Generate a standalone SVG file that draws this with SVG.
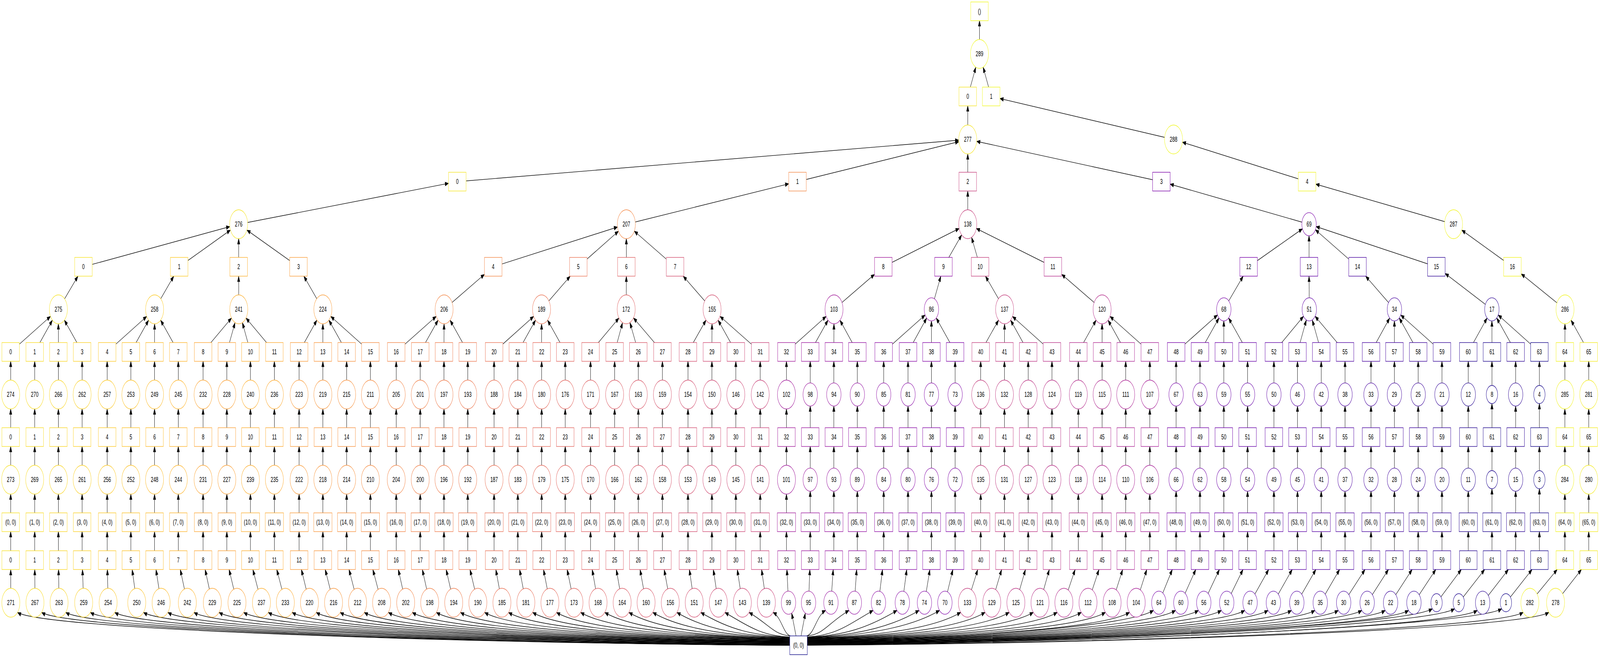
<svg xmlns="http://www.w3.org/2000/svg" width="6566" height="1682" viewBox="0 0 6566 1682" preserveAspectRatio="none">
<defs>
<style>
svg{width:100vw;height:100vh}
text{font-family:"Liberation Sans",Arial,sans-serif;font-size:18.67px;text-anchor:middle;fill:#000;stroke:none}
.nd circle,.nd rect{fill:#fff;stroke-width:1.4}
#edges path{fill:none;stroke:#000;stroke-width:1.4;marker-end:url(#m0)}
#edges path.e37{marker-end:url(#m37)}
#edges path.e30{marker-end:url(#m30)}
</style>
<marker id="m0" markerUnits="userSpaceOnUse" markerWidth="14" markerHeight="10" viewBox="-14 -5 14 10" refX="0" refY="0" orient="auto" overflow="visible"><path d="M-14,-5L0,0L-14,5z" fill="#000" stroke="#000" stroke-width="1"/></marker>
<marker id="m37" markerUnits="userSpaceOnUse" markerWidth="14" markerHeight="10" viewBox="-14 -5 14 10" refX="37" refY="0" orient="auto" overflow="visible"><path d="M-14,-5L0,0L-14,5z" fill="#000" stroke="#000" stroke-width="1"/></marker>
<marker id="m30" markerUnits="userSpaceOnUse" markerWidth="14" markerHeight="10" viewBox="-14 -5 14 10" refX="29.6" refY="0" orient="auto" overflow="visible"><path d="M-14,-5L0,0L-14,5z" fill="#000" stroke="#000" stroke-width="1"/></marker>
</defs>
<rect width="6566" height="1682" fill="#fff"/>
<g id="edges">
<path d="M4019.6,138V53"/>
<path class="e37" d="M3971.4,247L4019.6,138"/>
<path class="e37" d="M4067.6,247L4019.6,138"/>
<path d="M3971.4,357V271"/>
<path d="M4816,357L4103.6,252.3"/>
<path class="e37" d="M1876.6,465L3971.4,357"/>
<path class="e37" d="M3272.7,465L3971.4,357"/>
<path class="e37" d="M3971.4,465L3971.4,357"/>
<path class="e37" d="M4766,465L3971.4,357"/>
<path class="e37" d="M5364,465L4816,357"/>
<path d="M979.4,574L1840.6,469.4"/>
<path d="M2570.4,574L3236.7,470.6"/>
<path d="M3971.4,574V489"/>
<path d="M5372,574L4802,471.5"/>
<path d="M5965,574L5400,471.5"/>
<path class="e37" d="M342.4,683L979.4,574"/>
<path class="e37" d="M735.2,683L979.4,574"/>
<path class="e37" d="M979.4,683L979.4,574"/>
<path class="e37" d="M1224.9,683L979.4,574"/>
<path class="e37" d="M2024,683L2570.4,574"/>
<path class="e37" d="M2373.3,683L2570.4,574"/>
<path class="e37" d="M2570.4,683L2570.4,574"/>
<path class="e37" d="M2770.4,683L2570.4,574"/>
<path class="e37" d="M3624.9,683L3971.4,574"/>
<path class="e37" d="M3871.8,683L3971.4,574"/>
<path class="e37" d="M4022,683L3971.4,574"/>
<path class="e37" d="M4320.8,683L3971.4,574"/>
<path class="e30" d="M5124,683L5372,574"/>
<path class="e30" d="M5372,683L5372,574"/>
<path class="e30" d="M5571,683L5372,574"/>
<path class="e30" d="M5894.5,683L5372,574"/>
<path class="e37" d="M6206.6,683L5965,574"/>
<path d="M239.6,792L319.8,707"/>
<path d="M634.5,792L713,707"/>
<path d="M979.8,792L979.4,707"/>
<path d="M1325,792L1247,707"/>
<path d="M1822.5,792L1988,702.5"/>
<path d="M2222.4,792L2340,707"/>
<path d="M2569.7,792L2570.4,707"/>
<path d="M2922.2,792L2803.8,707"/>
<path d="M3422.6,792L3588.9,702.4"/>
<path d="M3822.4,792L3860.9,707"/>
<path d="M4122.7,792L4044.2,707"/>
<path d="M4522.7,792L4356.8,702.4"/>
<path d="M5022.2,792L5101.6,707"/>
<path d="M5373,792L5372,707"/>
<path d="M5722.4,792L5604.3,707"/>
<path d="M6122.3,792L5930.5,700.2"/>
<path d="M6422.5,792L6242.6,701.2"/>
<path class="e37" d="M43.8,901L239.6,792"/>
<path class="e37" d="M142.4,901L239.6,792"/>
<path class="e37" d="M239.6,901L239.6,792"/>
<path class="e37" d="M337,901L239.6,792"/>
<path class="e37" d="M439.8,901L634.5,792"/>
<path class="e37" d="M537,901L634.5,792"/>
<path class="e37" d="M634.2,901L634.5,792"/>
<path class="e37" d="M731.7,901L634.5,792"/>
<path class="e37" d="M833.4,901L979.8,792"/>
<path class="e37" d="M930.9,901L979.8,792"/>
<path class="e37" d="M1027.7,901L979.8,792"/>
<path class="e37" d="M1126,901L979.8,792"/>
<path class="e37" d="M1227.5,901L1325,792"/>
<path class="e37" d="M1325,901L1325,792"/>
<path class="e37" d="M1422.5,901L1325,792"/>
<path class="e37" d="M1520,901L1325,792"/>
<path class="e37" d="M1626,901L1822.5,792"/>
<path class="e37" d="M1724.5,901L1822.5,792"/>
<path class="e37" d="M1822,901L1822.5,792"/>
<path class="e37" d="M1919.5,901L1822.5,792"/>
<path class="e37" d="M2027.6,901L2222.4,792"/>
<path class="e37" d="M2125,901L2222.4,792"/>
<path class="e37" d="M2222.8,901L2222.4,792"/>
<path class="e37" d="M2319.6,901L2222.4,792"/>
<path class="e37" d="M2423.4,901L2569.7,792"/>
<path class="e37" d="M2522.3,901L2569.7,792"/>
<path class="e37" d="M2619.5,901L2569.7,792"/>
<path class="e37" d="M2718.4,901L2569.7,792"/>
<path class="e37" d="M2823.3,901L2922.2,792"/>
<path class="e37" d="M2921.5,901L2922.2,792"/>
<path class="e37" d="M3019.7,901L2922.2,792"/>
<path class="e37" d="M3119.7,901L2922.2,792"/>
<path class="e37" d="M3227.4,901L3422.6,792"/>
<path class="e37" d="M3325,901L3422.6,792"/>
<path class="e37" d="M3421.9,901L3422.6,792"/>
<path class="e37" d="M3518.3,901L3422.6,792"/>
<path class="e30" d="M3626.4,901L3822.4,792"/>
<path class="e30" d="M3726.3,901L3822.4,792"/>
<path class="e30" d="M3822.4,901L3822.4,792"/>
<path class="e30" d="M3919.6,901L3822.4,792"/>
<path class="e37" d="M4024.5,901L4122.7,792"/>
<path class="e37" d="M4122,901L4122.7,792"/>
<path class="e37" d="M4219.5,901L4122.7,792"/>
<path class="e37" d="M4317,901L4122.7,792"/>
<path class="e37" d="M4425.2,901L4522.7,792"/>
<path class="e37" d="M4522.7,901L4522.7,792"/>
<path class="e37" d="M4619.6,901L4522.7,792"/>
<path class="e37" d="M4718.5,901L4522.7,792"/>
<path class="e30" d="M4826.5,901L5022.2,792"/>
<path class="e30" d="M4924.4,901L5022.2,792"/>
<path class="e30" d="M5022.2,901L5022.2,792"/>
<path class="e30" d="M5119.7,901L5022.2,792"/>
<path class="e30" d="M5227.8,901L5373,792"/>
<path class="e30" d="M5324.6,901L5373,792"/>
<path class="e30" d="M5422,901L5373,792"/>
<path class="e30" d="M5519.7,901L5373,792"/>
<path class="e30" d="M5626.3,901L5722.4,792"/>
<path class="e30" d="M5722.4,901L5722.4,792"/>
<path class="e30" d="M5819.9,901L5722.4,792"/>
<path class="e30" d="M5917.4,901L5722.4,792"/>
<path class="e30" d="M6025.4,901L6122.3,792"/>
<path class="e30" d="M6122.6,901L6122.3,792"/>
<path class="e30" d="M6219.8,901L6122.3,792"/>
<path class="e30" d="M6317.3,901L6122.3,792"/>
<path class="e37" d="M6421.8,901L6422.5,792"/>
<path class="e37" d="M6519.7,901L6422.5,792"/>
<g transform="translate(43.8,0)"><path d="M0,1010V925"/><path d="M0,1119V1047"/><path d="M0,1228V1143"/><path d="M0,1337V1265"/><path d="M0,1434V1361"/><path d="M0.7,1543L0.15,1458"/></g>
<g transform="translate(142.4,0)"><path d="M0,1010V925"/><path d="M0,1119V1047"/><path d="M0,1228V1143"/><path d="M0,1337V1265"/><path d="M0,1434V1361"/><path d="M1.1,1543L0.24,1458"/></g>
<g transform="translate(239.6,0)"><path d="M0,1010V925"/><path d="M0,1119V1047"/><path d="M0,1228V1143"/><path d="M0,1337V1265"/><path d="M0,1434V1361"/><path d="M2.8,1543L0.62,1458"/></g>
<g transform="translate(337,0)"><path d="M0,1010V925"/><path d="M0,1119V1047"/><path d="M0,1228V1143"/><path d="M0,1337V1265"/><path d="M0,1434V1361"/><path d="M6.4,1543L1.41,1458"/></g>
<g transform="translate(439.8,0)"><path d="M0,1010V925"/><path d="M0,1119V1047"/><path d="M0,1228V1143"/><path d="M0,1337V1265"/><path d="M0,1434V1361"/><path d="M3.9,1543L0.86,1458"/></g>
<g transform="translate(537,0)"><path d="M0,1010V925"/><path d="M0,1119V1047"/><path d="M0,1228V1143"/><path d="M0,1337V1265"/><path d="M0,1434V1361"/><path d="M24.2,1543L5.33,1458"/></g>
<g transform="translate(634.2,0)"><path d="M0,1010V925"/><path d="M0,1119V1047"/><path d="M0,1228V1143"/><path d="M0,1337V1265"/><path d="M0,1434V1361"/><path d="M27,1543L5.95,1458"/></g>
<g transform="translate(731.7,0)"><path d="M0,1010V925"/><path d="M0,1119V1047"/><path d="M0,1228V1143"/><path d="M0,1337V1265"/><path d="M0,1434V1361"/><path d="M37.1,1543L8.17,1458"/></g>
<g transform="translate(833.4,0)"><path d="M0,1010V925"/><path d="M0,1119V1047"/><path d="M0,1228V1143"/><path d="M0,1337V1265"/><path d="M0,1434V1361"/><path d="M37.9,1543L8.35,1458"/></g>
<g transform="translate(930.9,0)"><path d="M0,1010V925"/><path d="M0,1119V1047"/><path d="M0,1228V1143"/><path d="M0,1337V1265"/><path d="M0,1434V1361"/><path d="M41.7,1543L9.18,1458"/></g>
<g transform="translate(1027.7,0)"><path d="M0,1010V925"/><path d="M0,1119V1047"/><path d="M0,1228V1143"/><path d="M0,1337V1265"/><path d="M0,1434V1361"/><path d="M45.3,1543L9.97,1458"/></g>
<g transform="translate(1126,0)"><path d="M0,1010V925"/><path d="M0,1119V1047"/><path d="M0,1228V1143"/><path d="M0,1337V1265"/><path d="M0,1434V1361"/><path d="M45,1543L9.91,1458"/></g>
<g transform="translate(1227.5,0)"><path d="M0,1010V925"/><path d="M0,1119V1047"/><path d="M0,1228V1143"/><path d="M0,1337V1265"/><path d="M0,1434V1361"/><path d="M42.5,1543L9.36,1458"/></g>
<g transform="translate(1325,0)"><path d="M0,1010V925"/><path d="M0,1119V1047"/><path d="M0,1228V1143"/><path d="M0,1337V1265"/><path d="M0,1434V1361"/><path d="M43.8,1543L9.64,1458"/></g>
<g transform="translate(1422.5,0)"><path d="M0,1010V925"/><path d="M0,1119V1047"/><path d="M0,1228V1143"/><path d="M0,1337V1265"/><path d="M0,1434V1361"/><path d="M44.9,1543L9.89,1458"/></g>
<g transform="translate(1520,0)"><path d="M0,1010V925"/><path d="M0,1119V1047"/><path d="M0,1228V1143"/><path d="M0,1337V1265"/><path d="M0,1434V1361"/><path d="M46,1543L10.13,1458"/></g>
<g transform="translate(1626,0)"><path d="M0,1010V925"/><path d="M0,1119V1047"/><path d="M0,1228V1143"/><path d="M0,1337V1265"/><path d="M0,1434V1361"/><path d="M38.9,1543L8.57,1458"/></g>
<g transform="translate(1724.5,0)"><path d="M0,1010V925"/><path d="M0,1119V1047"/><path d="M0,1228V1143"/><path d="M0,1337V1265"/><path d="M0,1434V1361"/><path d="M38.9,1543L8.57,1458"/></g>
<g transform="translate(1822,0)"><path d="M0,1010V925"/><path d="M0,1119V1047"/><path d="M0,1228V1143"/><path d="M0,1337V1265"/><path d="M0,1434V1361"/><path d="M40,1543L8.81,1458"/></g>
<g transform="translate(1919.5,0)"><path d="M0,1010V925"/><path d="M0,1119V1047"/><path d="M0,1228V1143"/><path d="M0,1337V1265"/><path d="M0,1434V1361"/><path d="M41.5,1543L9.14,1458"/></g>
<g transform="translate(2027.6,0)"><path d="M0,1010V925"/><path d="M0,1119V1047"/><path d="M0,1228V1143"/><path d="M0,1337V1265"/><path d="M0,1434V1361"/><path d="M32.2,1543L7.09,1458"/></g>
<g transform="translate(2125,0)"><path d="M0,1010V925"/><path d="M0,1119V1047"/><path d="M0,1228V1143"/><path d="M0,1337V1265"/><path d="M0,1434V1361"/><path d="M33,1543L7.27,1458"/></g>
<g transform="translate(2222.8,0)"><path d="M0,1010V925"/><path d="M0,1119V1047"/><path d="M0,1228V1143"/><path d="M0,1337V1265"/><path d="M0,1434V1361"/><path d="M34,1543L7.49,1458"/></g>
<g transform="translate(2319.6,0)"><path d="M0,1010V925"/><path d="M0,1119V1047"/><path d="M0,1228V1143"/><path d="M0,1337V1265"/><path d="M0,1434V1361"/><path d="M35.8,1543L7.88,1458"/></g>
<g transform="translate(2423.4,0)"><path d="M0,1010V925"/><path d="M0,1119V1047"/><path d="M0,1228V1143"/><path d="M0,1337V1265"/><path d="M0,1434V1361"/><path d="M30.9,1543L6.8,1458"/></g>
<g transform="translate(2522.3,0)"><path d="M0,1010V925"/><path d="M0,1119V1047"/><path d="M0,1228V1143"/><path d="M0,1337V1265"/><path d="M0,1434V1361"/><path d="M30.9,1543L6.8,1458"/></g>
<g transform="translate(2619.5,0)"><path d="M0,1010V925"/><path d="M0,1119V1047"/><path d="M0,1228V1143"/><path d="M0,1337V1265"/><path d="M0,1434V1361"/><path d="M31.9,1543L7.02,1458"/></g>
<g transform="translate(2718.4,0)"><path d="M0,1010V925"/><path d="M0,1119V1047"/><path d="M0,1228V1143"/><path d="M0,1337V1265"/><path d="M0,1434V1361"/><path d="M32.3,1543L7.11,1458"/></g>
<g transform="translate(2823.3,0)"><path d="M0,1010V925"/><path d="M0,1119V1047"/><path d="M0,1228V1143"/><path d="M0,1337V1265"/><path d="M0,1434V1361"/><path d="M25.6,1543L5.64,1458"/></g>
<g transform="translate(2921.5,0)"><path d="M0,1010V925"/><path d="M0,1119V1047"/><path d="M0,1228V1143"/><path d="M0,1337V1265"/><path d="M0,1434V1361"/><path d="M26.3,1543L5.79,1458"/></g>
<g transform="translate(3019.7,0)"><path d="M0,1010V925"/><path d="M0,1119V1047"/><path d="M0,1228V1143"/><path d="M0,1337V1265"/><path d="M0,1434V1361"/><path d="M26.7,1543L5.88,1458"/></g>
<g transform="translate(3119.7,0)"><path d="M0,1010V925"/><path d="M0,1119V1047"/><path d="M0,1228V1143"/><path d="M0,1337V1265"/><path d="M0,1434V1361"/><path d="M25.3,1543L5.57,1458"/></g>
<g transform="translate(3227.4,0)"><path d="M0,1010V925"/><path d="M0,1119V1047"/><path d="M0,1228V1143"/><path d="M0,1337V1265"/><path d="M0,1434V1361"/><path d="M8.4,1543L1.85,1458"/></g>
<g transform="translate(3325,0)"><path d="M0,1010V925"/><path d="M0,1119V1039.6"/><path d="M0,1228V1143"/><path d="M0,1337V1257.6"/><path d="M0,1434V1361"/><path d="M-7,1543L-1.54,1458"/></g>
<g transform="translate(3421.9,0)"><path d="M0,1010V925"/><path d="M0,1119V1039.6"/><path d="M0,1228V1143"/><path d="M0,1337V1257.6"/><path d="M0,1434V1361"/><path d="M-11.9,1543L-2.62,1458"/></g>
<g transform="translate(3518.3,0)"><path d="M0,1010V925"/><path d="M0,1119V1039.6"/><path d="M0,1228V1143"/><path d="M0,1337V1257.6"/><path d="M0,1434V1361"/><path d="M-12.3,1543L-2.71,1458"/></g>
<g transform="translate(3626.4,0)"><path d="M0,1010V925"/><path d="M0,1119V1039.6"/><path d="M0,1228V1143"/><path d="M0,1337V1257.6"/><path d="M0,1434V1361"/><path d="M-21.4,1543L-4.71,1458"/></g>
<g transform="translate(3726.3,0)"><path d="M0,1010V925"/><path d="M0,1119V1039.6"/><path d="M0,1228V1143"/><path d="M0,1337V1257.6"/><path d="M0,1434V1361"/><path d="M-23.3,1543L-5.13,1458"/></g>
<g transform="translate(3822.4,0)"><path d="M0,1010V925"/><path d="M0,1119V1039.6"/><path d="M0,1228V1143"/><path d="M0,1337V1257.6"/><path d="M0,1434V1361"/><path d="M-28.7,1543L-6.32,1458"/></g>
<g transform="translate(3919.6,0)"><path d="M0,1010V925"/><path d="M0,1119V1039.6"/><path d="M0,1228V1143"/><path d="M0,1337V1257.6"/><path d="M0,1434V1361"/><path d="M-42,1543L-9.25,1458"/></g>
<g transform="translate(4024.5,0)"><path d="M0,1010V925"/><path d="M0,1119V1047"/><path d="M0,1228V1143"/><path d="M0,1337V1265"/><path d="M0,1434V1361"/><path d="M-54.5,1543L-12,1458"/></g>
<g transform="translate(4122,0)"><path d="M0,1010V925"/><path d="M0,1119V1047"/><path d="M0,1228V1143"/><path d="M0,1337V1265"/><path d="M0,1434V1361"/><path d="M-52,1543L-11.45,1458"/></g>
<g transform="translate(4219.5,0)"><path d="M0,1010V925"/><path d="M0,1119V1047"/><path d="M0,1228V1143"/><path d="M0,1337V1265"/><path d="M0,1434V1361"/><path d="M-50.5,1543L-11.12,1458"/></g>
<g transform="translate(4317,0)"><path d="M0,1010V925"/><path d="M0,1119V1047"/><path d="M0,1228V1143"/><path d="M0,1337V1265"/><path d="M0,1434V1361"/><path d="M-49.1,1543L-10.81,1458"/></g>
<g transform="translate(4425.2,0)"><path d="M0,1010V925"/><path d="M0,1119V1047"/><path d="M0,1228V1143"/><path d="M0,1337V1265"/><path d="M0,1434V1361"/><path d="M-59.2,1543L-13.04,1458"/></g>
<g transform="translate(4522.7,0)"><path d="M0,1010V925"/><path d="M0,1119V1047"/><path d="M0,1228V1143"/><path d="M0,1337V1265"/><path d="M0,1434V1361"/><path d="M-57.8,1543L-12.73,1458"/></g>
<g transform="translate(4619.6,0)"><path d="M0,1010V925"/><path d="M0,1119V1047"/><path d="M0,1228V1143"/><path d="M0,1337V1265"/><path d="M0,1434V1361"/><path d="M-55.8,1543L-12.29,1458"/></g>
<g transform="translate(4718.5,0)"><path d="M0,1010V925"/><path d="M0,1119V1047"/><path d="M0,1228V1143"/><path d="M0,1337V1265"/><path d="M0,1434V1361"/><path d="M-55.8,1543L-12.29,1458"/></g>
<g transform="translate(4826.5,0)"><path d="M0,1010V925"/><path d="M0,1119V1039.6"/><path d="M0,1228V1143"/><path d="M0,1337V1257.6"/><path d="M0,1434V1361"/><path d="M-70.9,1543L-15.61,1458"/></g>
<g transform="translate(4924.4,0)"><path d="M0,1010V925"/><path d="M0,1119V1039.6"/><path d="M0,1228V1143"/><path d="M0,1337V1257.6"/><path d="M0,1434V1361"/><path d="M-78.4,1543L-17.26,1458"/></g>
<g transform="translate(5022.2,0)"><path d="M0,1010V925"/><path d="M0,1119V1039.6"/><path d="M0,1228V1143"/><path d="M0,1337V1257.6"/><path d="M0,1434V1361"/><path d="M-82.2,1543L-18.1,1458"/></g>
<g transform="translate(5119.7,0)"><path d="M0,1010V925"/><path d="M0,1119V1039.6"/><path d="M0,1228V1143"/><path d="M0,1337V1257.6"/><path d="M0,1434V1361"/><path d="M-85.5,1543L-18.83,1458"/></g>
<g transform="translate(5227.8,0)"><path d="M0,1010V925"/><path d="M0,1119V1039.6"/><path d="M0,1228V1143"/><path d="M0,1337V1257.6"/><path d="M0,1434V1361"/><path d="M-97.8,1543L-21.54,1458"/></g>
<g transform="translate(5324.6,0)"><path d="M0,1010V925"/><path d="M0,1119V1039.6"/><path d="M0,1228V1143"/><path d="M0,1337V1257.6"/><path d="M0,1434V1361"/><path d="M-98.9,1543L-21.78,1458"/></g>
<g transform="translate(5422,0)"><path d="M0,1010V925"/><path d="M0,1119V1039.6"/><path d="M0,1228V1143"/><path d="M0,1337V1257.6"/><path d="M0,1434V1361"/><path d="M-100.2,1543L-22.06,1458"/></g>
<g transform="translate(5519.7,0)"><path d="M0,1010V925"/><path d="M0,1119V1039.6"/><path d="M0,1228V1143"/><path d="M0,1337V1257.6"/><path d="M0,1434V1361"/><path d="M-101.7,1543L-22.39,1458"/></g>
<g transform="translate(5626.3,0)"><path d="M0,1010V925"/><path d="M0,1119V1039.6"/><path d="M0,1228V1143"/><path d="M0,1337V1257.6"/><path d="M0,1434V1361"/><path d="M-112.3,1543L-24.73,1458"/></g>
<g transform="translate(5722.4,0)"><path d="M0,1010V925"/><path d="M0,1119V1039.6"/><path d="M0,1228V1143"/><path d="M0,1337V1257.6"/><path d="M0,1434V1361"/><path d="M-111.9,1543L-24.64,1458"/></g>
<g transform="translate(5819.9,0)"><path d="M0,1010V925"/><path d="M0,1119V1039.6"/><path d="M0,1228V1143"/><path d="M0,1337V1257.6"/><path d="M0,1434V1361"/><path d="M-113.3,1543L-24.95,1458"/></g>
<g transform="translate(5917.4,0)"><path d="M0,1010V925"/><path d="M0,1119V1039.6"/><path d="M0,1228V1143"/><path d="M0,1337V1257.6"/><path d="M0,1434V1361"/><path d="M-115,1543L-25.32,1458"/></g>
<g transform="translate(6025.4,0)"><path d="M0,1010V925"/><path d="M0,1119V1039.6"/><path d="M0,1228V1143"/><path d="M0,1337V1257.6"/><path d="M0,1434V1361"/><path d="M-130.1,1543L-28.65,1458"/></g>
<g transform="translate(6122.6,0)"><path d="M0,1010V925"/><path d="M0,1119V1033.3"/><path d="M0,1228V1143"/><path d="M0,1337V1251.3"/><path d="M0,1434V1361"/><path d="M-136.1,1543L-29.97,1458"/></g>
<g transform="translate(6219.8,0)"><path d="M0,1010V925"/><path d="M0,1119V1039.6"/><path d="M0,1228V1143"/><path d="M0,1337V1257.6"/><path d="M0,1434V1361"/><path d="M-135.4,1543L-29.81,1458"/></g>
<g transform="translate(6317.3,0)"><path d="M0,1010V925"/><path d="M0,1119V1033.3"/><path d="M0,1228V1143"/><path d="M0,1337V1251.3"/><path d="M0,1434V1361"/><path d="M-137.3,1543L-30.23,1458"/></g>
<g transform="translate(6421.8,0)"><path d="M0,1010V925"/><path d="M0,1119V1047"/><path d="M0,1228V1143"/><path d="M0,1337V1265"/><path d="M0,1434V1361"/><path d="M-143.5,1543L-31.6,1458"/></g>
<g transform="translate(6519.7,0)"><path d="M0,1010V925"/><path d="M0,1119V1047"/><path d="M0,1228V1143"/><path d="M0,1337V1265"/><path d="M0,1434V1361"/><path d="M-136.1,1543L-29.97,1458"/></g>
<path d="M3241,1652C1973,1648 192,1613 72,1568"/>
<path d="M3241,1652C2013,1648 291,1613 171,1568"/>
<path d="M3241,1652C2053,1648 390,1613 270,1568"/>
<path d="M3241,1651C2093,1647 491,1613 371,1568"/>
<path d="M3241,1650C2133,1646 591,1613 471,1568"/>
<path d="M3241,1649C2180,1645 709,1613 589,1568"/>
<path d="M3241,1649C2220,1645 809,1613 689,1568"/>
<path d="M3241,1648C2263,1644 916,1613 796,1568"/>
<path d="M3241,1647C2304,1643 1019,1613 899,1568"/>
<path d="M3241,1646C2345,1642 1120,1613 1000,1568"/>
<path d="M3241,1645C2385,1641 1221,1613 1101,1568"/>
<path d="M3241,1645C2424,1641 1319,1613 1199,1568"/>
<path d="M3241,1644C2464,1640 1418,1613 1298,1568"/>
<path d="M3241,1643C2503,1639 1516,1613 1396,1568"/>
<path d="M3241,1642C2543,1638 1615,1613 1495,1568"/>
<path d="M3241,1642C2582,1638 1714,1613 1594,1568"/>
<path d="M3241,1641C2622,1637 1812,1613 1692,1568"/>
<path d="M3241,1640C2661,1636 1911,1613 1791,1568"/>
<path d="M3241,1639C2700,1635 2010,1613 1890,1568"/>
<path d="M3241,1638C2740,1634 2109,1613 1989,1568"/>
<path d="M3241,1638C2779,1634 2207,1613 2087,1568"/>
<path d="M3241,1637C2819,1633 2306,1613 2186,1568"/>
<path d="M3241,1636C2858,1632 2404,1613 2284,1568"/>
<path d="M3241,1635C2898,1631 2503,1613 2383,1568"/>
<path d="M3241,1635C2937,1631 2602,1613 2482,1568"/>
<path d="M3241,1634C2977,1630 2701,1613 2581,1568"/>
<path d="M3241,1633C3016,1629 2799,1613 2679,1568"/>
<path d="M3241,1632C3056,1628 2898,1613 2778,1568"/>
<path d="M3241,1631C3095,1627 2996,1613 2876,1568"/>
<path d="M3241,1631C3135,1627 3095,1613 2975,1568"/>
<path d="M3241,1628C3174,1624 3157,1599 3074,1568"/>
<path d="M3244,1628C3215,1624 3208,1581 3172.5,1568"/>
<path d="M3266.7,1628L3248.8,1569.6"/>
<path d="M3287.3,1628L3305,1569.6"/>
<path d="M3310.3,1628C3341.4,1624 3349.1,1577.4 3388,1562.8"/>
<path d="M3313,1628C3381.4,1624 3398.5,1594.9 3484,1562.8"/>
<path d="M3313,1630.6C3421,1626.6 3463,1607.8 3583,1562.8"/>
<path d="M3313,1631.4C3460,1627.4 3561,1607.8 3681,1562.8"/>
<path d="M3313,1632.1C3496.5,1628.1 3651.7,1607.8 3771.7,1562.8"/>
<path d="M3313,1632.8C3530,1628.8 3735.6,1607.8 3855.6,1562.8"/>
<path d="M3313,1633.5C3564.8,1629.5 3822.5,1612.8 3942.5,1567.8"/>
<path d="M3313,1634.3C3604.8,1630.3 3922.5,1612.8 4042.5,1567.8"/>
<path d="M3313,1635C3644.4,1631 4021.5,1612.8 4141.5,1567.8"/>
<path d="M3313,1635.8C3684,1631.8 4120.4,1612.8 4240.4,1567.8"/>
<path d="M3313,1636.6C3723.2,1632.6 4218.5,1612.8 4338.5,1567.8"/>
<path d="M3313,1637.4C3762.8,1633.4 4317.4,1612.8 4437.4,1567.8"/>
<path d="M3313,1638.1C3802.3,1634.1 4416.3,1612.8 4536.3,1567.8"/>
<path d="M3313,1638.9C3841.9,1634.9 4515.2,1612.8 4635.2,1567.8"/>
<path d="M3313,1639.7C3881.2,1635.7 4613.6,1607.8 4733.6,1562.8"/>
<path d="M3313,1640.4C3917.4,1636.4 4704,1607.8 4824,1562.8"/>
<path d="M3313,1641.1C3955,1637.1 4798,1607.8 4918,1562.8"/>
<path d="M3313,1641.8C3992.6,1637.8 4892.2,1607.8 5012.2,1562.8"/>
<path d="M3313,1642.6C4031,1638.6 4988,1607.8 5108,1562.8"/>
<path d="M3313,1643.3C4069.3,1639.3 5083.7,1607.8 5203.7,1562.8"/>
<path d="M3313,1644.1C4107.7,1640.1 5179.8,1607.8 5299.8,1562.8"/>
<path d="M3313,1644.9C4146.2,1640.9 5276,1607.8 5396,1562.8"/>
<path d="M3313,1645.6C4184.6,1641.6 5372,1607.8 5492,1562.8"/>
<path d="M3313,1646.4C4223.2,1642.4 5468.5,1607.8 5588.5,1562.8"/>
<path d="M3313,1647.1C4261.6,1643.1 5564.6,1607.8 5684.6,1562.8"/>
<path d="M3313,1647.9C4300,1643.9 5660.4,1607.8 5780.4,1562.8"/>
<path d="M3313,1648.6C4339,1644.6 5758,1603.6 5878,1558.6"/>
<path d="M3313,1649.3C4375.4,1645.3 5849.2,1603.6 5969.2,1558.6"/>
<path d="M3313,1650.1C4412.8,1646.1 5942.4,1607.8 6062.4,1562.8"/>
<path d="M3313,1650.8C4452.9,1646.8 6042.7,1603.6 6162.7,1558.6"/>
<path d="M3313,1651.6C4488,1647.6 6130.8,1612.8 6250.8,1567.8"/>
<path d="M3313,1652C4530,1648 6236.1,1612.8 6356.1,1567.8"/>
</g>
<g id="nodes" class="nd">
<g id="top" stroke="#f0f921"><rect x="3983.6" y="5" width="72" height="48"/><text x="4019.6" y="35.5">()</text></g>
<g id="n289" stroke="#f0f921"><circle cx="4019.6" cy="138" r="37"/><text x="4019.6" y="144.5">289</text></g>
<g id="t0" stroke="#f6e624"><rect x="3935.4" y="223" width="72" height="48"/><text x="3971.4" y="253.5">0</text></g>
<g id="t1" stroke="#f0f821"><rect x="4031.6" y="223" width="72" height="48"/><text x="4067.6" y="253.5">1</text></g>
<g id="n277" stroke="#f6e624"><circle cx="3971.4" cy="357" r="37"/><text x="3971.4" y="363.5">277</text></g>
<g id="n288" stroke="#f0f821"><circle cx="4816" cy="357" r="37"/><text x="4816" y="363.5">288</text></g>
<g id="u0" stroke="#f6e525"><rect x="1840.6" y="441" width="72" height="48"/><text x="1876.6" y="471.5">0</text></g>
<g id="u1" stroke="#f48947"><rect x="3236.7" y="441" width="72" height="48"/><text x="3272.7" y="471.5">1</text></g>
<g id="u2" stroke="#c6417d"><rect x="3935.4" y="441" width="72" height="48"/><text x="3971.4" y="471.5">2</text></g>
<g id="u3" stroke="#7a02a8"><rect x="4730" y="441" width="72" height="48"/><text x="4766" y="471.5">3</text></g>
<g id="u4" stroke="#f1f522"><rect x="5328" y="441" width="72" height="48"/><text x="5364" y="471.5">4</text></g>
<g id="n276" stroke="#f6e525"><circle cx="979.4" cy="574" r="37"/><text x="979.4" y="580.5">276</text></g>
<g id="n207" stroke="#f48947"><circle cx="2570.4" cy="574" r="37"/><text x="2570.4" y="580.5">207</text></g>
<g id="n138" stroke="#c6417d"><circle cx="3971.4" cy="574" r="37"/><text x="3971.4" y="580.5">138</text></g>
<g id="n69" stroke="#7a02a8"><circle cx="5372" cy="574" r="29.6"/><text x="5372" y="580.5">69</text></g>
<g id="n287" stroke="#f1f522"><circle cx="5965" cy="574" r="37"/><text x="5965" y="580.5">287</text></g>
<g id="v0" stroke="#f7e325"><rect x="306.4" y="659" width="72" height="48"/><text x="342.4" y="689.5">0</text></g>
<g id="v1" stroke="#fccb26"><rect x="699.2" y="659" width="72" height="48"/><text x="735.2" y="689.5">1</text></g>
<g id="v2" stroke="#fdb130"><rect x="943.4" y="659" width="72" height="48"/><text x="979.4" y="689.5">2</text></g>
<g id="v3" stroke="#fa9e3b"><rect x="1188.9" y="659" width="72" height="48"/><text x="1224.9" y="689.5">3</text></g>
<g id="v4" stroke="#f48848"><rect x="1988" y="659" width="72" height="48"/><text x="2024" y="689.5">4</text></g>
<g id="v5" stroke="#eb7556"><rect x="2337.3" y="659" width="72" height="48"/><text x="2373.3" y="689.5">5</text></g>
<g id="v6" stroke="#e06263"><rect x="2534.4" y="659" width="72" height="48"/><text x="2570.4" y="689.5">6</text></g>
<g id="v7" stroke="#d35170"><rect x="2734.4" y="659" width="72" height="48"/><text x="2770.4" y="689.5">7</text></g>
<g id="v8" stroke="#a21c9a"><rect x="3588.9" y="659" width="72" height="48"/><text x="3624.9" y="689.5">8</text></g>
<g id="v9" stroke="#8e0ca4"><rect x="3835.8" y="659" width="72" height="48"/><text x="3871.8" y="689.5">9</text></g>
<g id="v10" stroke="#c5407e"><rect x="3986" y="659" width="72" height="48"/><text x="4022" y="689.5">10</text></g>
<g id="v11" stroke="#b52e8c"><rect x="4284.8" y="659" width="72" height="48"/><text x="4320.8" y="689.5">11</text></g>
<g id="v12" stroke="#7802a8"><rect x="5088" y="659" width="72" height="48"/><text x="5124" y="689.5">12</text></g>
<g id="v13" stroke="#6101a6"><rect x="5336" y="659" width="72" height="48"/><text x="5372" y="689.5">13</text></g>
<g id="v14" stroke="#48039f"><rect x="5535" y="659" width="72" height="48"/><text x="5571" y="689.5">14</text></g>
<g id="v15" stroke="#2d0595"><rect x="5858.5" y="659" width="72" height="48"/><text x="5894.5" y="689.5">15</text></g>
<g id="v16" stroke="#f1f422"><rect x="6170.6" y="659" width="72" height="48"/><text x="6206.6" y="689.5">16</text></g>
<g id="n275" stroke="#f7e325"><circle cx="239.6" cy="792" r="37"/><text x="239.6" y="798.5">275</text></g>
<g id="n258" stroke="#fccb26"><circle cx="634.5" cy="792" r="37"/><text x="634.5" y="798.5">258</text></g>
<g id="n241" stroke="#fdb130"><circle cx="979.8" cy="792" r="37"/><text x="979.8" y="798.5">241</text></g>
<g id="n224" stroke="#fa9e3b"><circle cx="1325" cy="792" r="37"/><text x="1325" y="798.5">224</text></g>
<g id="n206" stroke="#f48848"><circle cx="1822.5" cy="792" r="37"/><text x="1822.5" y="798.5">206</text></g>
<g id="n189" stroke="#eb7556"><circle cx="2222.4" cy="792" r="37"/><text x="2222.4" y="798.5">189</text></g>
<g id="n172" stroke="#e06263"><circle cx="2569.7" cy="792" r="37"/><text x="2569.7" y="798.5">172</text></g>
<g id="n155" stroke="#d35170"><circle cx="2922.2" cy="792" r="37"/><text x="2922.2" y="798.5">155</text></g>
<g id="n103" stroke="#a21c9a"><circle cx="3422.6" cy="792" r="37"/><text x="3422.6" y="798.5">103</text></g>
<g id="n86" stroke="#8e0ca4"><circle cx="3822.4" cy="792" r="29.6"/><text x="3822.4" y="798.5">86</text></g>
<g id="n137" stroke="#c5407e"><circle cx="4122.7" cy="792" r="37"/><text x="4122.7" y="798.5">137</text></g>
<g id="n120" stroke="#b52e8c"><circle cx="4522.7" cy="792" r="37"/><text x="4522.7" y="798.5">120</text></g>
<g id="n68" stroke="#7802a8"><circle cx="5022.2" cy="792" r="29.6"/><text x="5022.2" y="798.5">68</text></g>
<g id="n51" stroke="#6101a6"><circle cx="5373" cy="792" r="29.6"/><text x="5373" y="798.5">51</text></g>
<g id="n34" stroke="#48039f"><circle cx="5722.4" cy="792" r="29.6"/><text x="5722.4" y="798.5">34</text></g>
<g id="n17" stroke="#2d0595"><circle cx="6122.3" cy="792" r="29.6"/><text x="6122.3" y="798.5">17</text></g>
<g id="n286" stroke="#f1f422"><circle cx="6422.5" cy="792" r="37"/><text x="6422.5" y="798.5">286</text></g>
<g id="root" stroke="#0d0887"><rect x="3241" y="1628" width="72" height="48"/><text x="3277" y="1658.5">(0, 0)</text></g>
<g id="c0" stroke="#f7e125" transform="translate(43.8,0)"><g id="c0a"><rect x="-36" y="877" width="72" height="48"/><text y="907.5">0</text></g><g id="c0b"><circle cy="1010" r="37"/><text y="1016.5">274</text></g><g id="c0c"><rect x="-36" y="1095" width="72" height="48"/><text y="1125.5">0</text></g><g id="c0d"><circle cy="1228" r="37"/><text y="1234.5">273</text></g><g id="c0e"><rect x="-36" y="1313" width="72" height="48"/><text y="1343.5">(0, 0)</text></g><g id="c0f"><rect x="-36" y="1410" width="72" height="48"/><text y="1440.5">0</text></g><g id="c0g"><circle cx="0.7" cy="1543" r="37"/><text x="0.7" y="1549.5">271</text></g></g>
<g id="c1" stroke="#f9dc25" transform="translate(142.4,0)"><g id="c1a"><rect x="-36" y="877" width="72" height="48"/><text y="907.5">1</text></g><g id="c1b"><circle cy="1010" r="37"/><text y="1016.5">270</text></g><g id="c1c"><rect x="-36" y="1095" width="72" height="48"/><text y="1125.5">1</text></g><g id="c1d"><circle cy="1228" r="37"/><text y="1234.5">269</text></g><g id="c1e"><rect x="-36" y="1313" width="72" height="48"/><text y="1343.5">(1, 0)</text></g><g id="c1f"><rect x="-36" y="1410" width="72" height="48"/><text y="1440.5">1</text></g><g id="c1g"><circle cx="1.1" cy="1543" r="37"/><text x="1.1" y="1549.5">267</text></g></g>
<g id="c2" stroke="#fad625" transform="translate(239.6,0)"><g id="c2a"><rect x="-36" y="877" width="72" height="48"/><text y="907.5">2</text></g><g id="c2b"><circle cy="1010" r="37"/><text y="1016.5">266</text></g><g id="c2c"><rect x="-36" y="1095" width="72" height="48"/><text y="1125.5">2</text></g><g id="c2d"><circle cy="1228" r="37"/><text y="1234.5">265</text></g><g id="c2e"><rect x="-36" y="1313" width="72" height="48"/><text y="1343.5">(2, 0)</text></g><g id="c2f"><rect x="-36" y="1410" width="72" height="48"/><text y="1440.5">2</text></g><g id="c2g"><circle cx="2.8" cy="1543" r="37"/><text x="2.8" y="1549.5">263</text></g></g>
<g id="c3" stroke="#fbd125" transform="translate(337,0)"><g id="c3a"><rect x="-36" y="877" width="72" height="48"/><text y="907.5">3</text></g><g id="c3b"><circle cy="1010" r="37"/><text y="1016.5">262</text></g><g id="c3c"><rect x="-36" y="1095" width="72" height="48"/><text y="1125.5">3</text></g><g id="c3d"><circle cy="1228" r="37"/><text y="1234.5">261</text></g><g id="c3e"><rect x="-36" y="1313" width="72" height="48"/><text y="1343.5">(3, 0)</text></g><g id="c3f"><rect x="-36" y="1410" width="72" height="48"/><text y="1440.5">3</text></g><g id="c3g"><circle cx="6.4" cy="1543" r="37"/><text x="6.4" y="1549.5">259</text></g></g>
<g id="c4" stroke="#fcc927" transform="translate(439.8,0)"><g id="c4a"><rect x="-36" y="877" width="72" height="48"/><text y="907.5">4</text></g><g id="c4b"><circle cy="1010" r="37"/><text y="1016.5">257</text></g><g id="c4c"><rect x="-36" y="1095" width="72" height="48"/><text y="1125.5">4</text></g><g id="c4d"><circle cy="1228" r="37"/><text y="1234.5">256</text></g><g id="c4e"><rect x="-36" y="1313" width="72" height="48"/><text y="1343.5">(4, 0)</text></g><g id="c4f"><rect x="-36" y="1410" width="72" height="48"/><text y="1440.5">4</text></g><g id="c4g"><circle cx="3.9" cy="1543" r="37"/><text x="3.9" y="1549.5">254</text></g></g>
<g id="c5" stroke="#fdc329" transform="translate(537,0)"><g id="c5a"><rect x="-36" y="877" width="72" height="48"/><text y="907.5">5</text></g><g id="c5b"><circle cy="1010" r="37"/><text y="1016.5">253</text></g><g id="c5c"><rect x="-36" y="1095" width="72" height="48"/><text y="1125.5">5</text></g><g id="c5d"><circle cy="1228" r="37"/><text y="1234.5">252</text></g><g id="c5e"><rect x="-36" y="1313" width="72" height="48"/><text y="1343.5">(5, 0)</text></g><g id="c5f"><rect x="-36" y="1410" width="72" height="48"/><text y="1440.5">5</text></g><g id="c5g"><circle cx="24.2" cy="1543" r="37"/><text x="24.2" y="1549.5">250</text></g></g>
<g id="c6" stroke="#fdbc2b" transform="translate(634.2,0)"><g id="c6a"><rect x="-36" y="877" width="72" height="48"/><text y="907.5">6</text></g><g id="c6b"><circle cy="1010" r="37"/><text y="1016.5">249</text></g><g id="c6c"><rect x="-36" y="1095" width="72" height="48"/><text y="1125.5">6</text></g><g id="c6d"><circle cy="1228" r="37"/><text y="1234.5">248</text></g><g id="c6e"><rect x="-36" y="1313" width="72" height="48"/><text y="1343.5">(6, 0)</text></g><g id="c6f"><rect x="-36" y="1410" width="72" height="48"/><text y="1440.5">6</text></g><g id="c6g"><circle cx="27" cy="1543" r="37"/><text x="27" y="1549.5">246</text></g></g>
<g id="c7" stroke="#feb62d" transform="translate(731.7,0)"><g id="c7a"><rect x="-36" y="877" width="72" height="48"/><text y="907.5">7</text></g><g id="c7b"><circle cy="1010" r="37"/><text y="1016.5">245</text></g><g id="c7c"><rect x="-36" y="1095" width="72" height="48"/><text y="1125.5">7</text></g><g id="c7d"><circle cy="1228" r="37"/><text y="1234.5">244</text></g><g id="c7e"><rect x="-36" y="1313" width="72" height="48"/><text y="1343.5">(7, 0)</text></g><g id="c7f"><rect x="-36" y="1410" width="72" height="48"/><text y="1440.5">7</text></g><g id="c7g"><circle cx="37.1" cy="1543" r="37"/><text x="37.1" y="1549.5">242</text></g></g>
<g id="c8" stroke="#fca736" transform="translate(833.4,0)"><g id="c8a"><rect x="-36" y="877" width="72" height="48"/><text y="907.5">8</text></g><g id="c8b"><circle cy="1010" r="37"/><text y="1016.5">232</text></g><g id="c8c"><rect x="-36" y="1095" width="72" height="48"/><text y="1125.5">8</text></g><g id="c8d"><circle cy="1228" r="37"/><text y="1234.5">231</text></g><g id="c8e"><rect x="-36" y="1313" width="72" height="48"/><text y="1343.5">(8, 0)</text></g><g id="c8f"><rect x="-36" y="1410" width="72" height="48"/><text y="1440.5">8</text></g><g id="c8g"><circle cx="37.9" cy="1543" r="37"/><text x="37.9" y="1549.5">229</text></g></g>
<g id="c9" stroke="#fba238" transform="translate(930.9,0)"><g id="c9a"><rect x="-36" y="877" width="72" height="48"/><text y="907.5">9</text></g><g id="c9b"><circle cy="1010" r="37"/><text y="1016.5">228</text></g><g id="c9c"><rect x="-36" y="1095" width="72" height="48"/><text y="1125.5">9</text></g><g id="c9d"><circle cy="1228" r="37"/><text y="1234.5">227</text></g><g id="c9e"><rect x="-36" y="1313" width="72" height="48"/><text y="1343.5">(9, 0)</text></g><g id="c9f"><rect x="-36" y="1410" width="72" height="48"/><text y="1440.5">9</text></g><g id="c9g"><circle cx="41.7" cy="1543" r="37"/><text x="41.7" y="1549.5">225</text></g></g>
<g id="c10" stroke="#fdb031" transform="translate(1027.7,0)"><g id="c10a"><rect x="-36" y="877" width="72" height="48"/><text y="907.5">10</text></g><g id="c10b"><circle cy="1010" r="37"/><text y="1016.5">240</text></g><g id="c10c"><rect x="-36" y="1095" width="72" height="48"/><text y="1125.5">10</text></g><g id="c10d"><circle cy="1228" r="37"/><text y="1234.5">239</text></g><g id="c10e"><rect x="-37.5" y="1313" width="75" height="48"/><text y="1343.5">(10, 0)</text></g><g id="c10f"><rect x="-36" y="1410" width="72" height="48"/><text y="1440.5">10</text></g><g id="c10g"><circle cx="45.3" cy="1543" r="37"/><text x="45.3" y="1549.5">237</text></g></g>
<g id="c11" stroke="#fdac33" transform="translate(1126,0)"><g id="c11a"><rect x="-36" y="877" width="72" height="48"/><text y="907.5">11</text></g><g id="c11b"><circle cy="1010" r="37"/><text y="1016.5">236</text></g><g id="c11c"><rect x="-36" y="1095" width="72" height="48"/><text y="1125.5">11</text></g><g id="c11d"><circle cy="1228" r="37"/><text y="1234.5">235</text></g><g id="c11e"><rect x="-37.5" y="1313" width="75" height="48"/><text y="1343.5">(11, 0)</text></g><g id="c11f"><rect x="-36" y="1410" width="72" height="48"/><text y="1440.5">11</text></g><g id="c11g"><circle cx="45" cy="1543" r="37"/><text x="45" y="1549.5">233</text></g></g>
<g id="c12" stroke="#fa9d3c" transform="translate(1227.5,0)"><g id="c12a"><rect x="-36" y="877" width="72" height="48"/><text y="907.5">12</text></g><g id="c12b"><circle cy="1010" r="37"/><text y="1016.5">223</text></g><g id="c12c"><rect x="-36" y="1095" width="72" height="48"/><text y="1125.5">12</text></g><g id="c12d"><circle cy="1228" r="37"/><text y="1234.5">222</text></g><g id="c12e"><rect x="-37.5" y="1313" width="75" height="48"/><text y="1343.5">(12, 0)</text></g><g id="c12f"><rect x="-36" y="1410" width="72" height="48"/><text y="1440.5">12</text></g><g id="c12g"><circle cx="42.5" cy="1543" r="37"/><text x="42.5" y="1549.5">220</text></g></g>
<g id="c13" stroke="#f9983e" transform="translate(1325,0)"><g id="c13a"><rect x="-36" y="877" width="72" height="48"/><text y="907.5">13</text></g><g id="c13b"><circle cy="1010" r="37"/><text y="1016.5">219</text></g><g id="c13c"><rect x="-36" y="1095" width="72" height="48"/><text y="1125.5">13</text></g><g id="c13d"><circle cy="1228" r="37"/><text y="1234.5">218</text></g><g id="c13e"><rect x="-37.5" y="1313" width="75" height="48"/><text y="1343.5">(13, 0)</text></g><g id="c13f"><rect x="-36" y="1410" width="72" height="48"/><text y="1440.5">13</text></g><g id="c13g"><circle cx="43.8" cy="1543" r="37"/><text x="43.8" y="1549.5">216</text></g></g>
<g id="c14" stroke="#f79341" transform="translate(1422.5,0)"><g id="c14a"><rect x="-36" y="877" width="72" height="48"/><text y="907.5">14</text></g><g id="c14b"><circle cy="1010" r="37"/><text y="1016.5">215</text></g><g id="c14c"><rect x="-36" y="1095" width="72" height="48"/><text y="1125.5">14</text></g><g id="c14d"><circle cy="1228" r="37"/><text y="1234.5">214</text></g><g id="c14e"><rect x="-37.5" y="1313" width="75" height="48"/><text y="1343.5">(14, 0)</text></g><g id="c14f"><rect x="-36" y="1410" width="72" height="48"/><text y="1440.5">14</text></g><g id="c14g"><circle cx="44.9" cy="1543" r="37"/><text x="44.9" y="1549.5">212</text></g></g>
<g id="c15" stroke="#f68e45" transform="translate(1520,0)"><g id="c15a"><rect x="-36" y="877" width="72" height="48"/><text y="907.5">15</text></g><g id="c15b"><circle cy="1010" r="37"/><text y="1016.5">211</text></g><g id="c15c"><rect x="-36" y="1095" width="72" height="48"/><text y="1125.5">15</text></g><g id="c15d"><circle cy="1228" r="37"/><text y="1234.5">210</text></g><g id="c15e"><rect x="-37.5" y="1313" width="75" height="48"/><text y="1343.5">(15, 0)</text></g><g id="c15f"><rect x="-36" y="1410" width="72" height="48"/><text y="1440.5">15</text></g><g id="c15g"><circle cx="46" cy="1543" r="37"/><text x="46" y="1549.5">208</text></g></g>
<g id="c16" stroke="#f38749" transform="translate(1626,0)"><g id="c16a"><rect x="-36" y="877" width="72" height="48"/><text y="907.5">16</text></g><g id="c16b"><circle cy="1010" r="37"/><text y="1016.5">205</text></g><g id="c16c"><rect x="-36" y="1095" width="72" height="48"/><text y="1125.5">16</text></g><g id="c16d"><circle cy="1228" r="37"/><text y="1234.5">204</text></g><g id="c16e"><rect x="-37.5" y="1313" width="75" height="48"/><text y="1343.5">(16, 0)</text></g><g id="c16f"><rect x="-36" y="1410" width="72" height="48"/><text y="1440.5">16</text></g><g id="c16g"><circle cx="38.9" cy="1543" r="37"/><text x="38.9" y="1549.5">202</text></g></g>
<g id="c17" stroke="#f1834c" transform="translate(1724.5,0)"><g id="c17a"><rect x="-36" y="877" width="72" height="48"/><text y="907.5">17</text></g><g id="c17b"><circle cy="1010" r="37"/><text y="1016.5">201</text></g><g id="c17c"><rect x="-36" y="1095" width="72" height="48"/><text y="1125.5">17</text></g><g id="c17d"><circle cy="1228" r="37"/><text y="1234.5">200</text></g><g id="c17e"><rect x="-37.5" y="1313" width="75" height="48"/><text y="1343.5">(17, 0)</text></g><g id="c17f"><rect x="-36" y="1410" width="72" height="48"/><text y="1440.5">17</text></g><g id="c17g"><circle cx="38.9" cy="1543" r="37"/><text x="38.9" y="1549.5">198</text></g></g>
<g id="c18" stroke="#ef7e4f" transform="translate(1822,0)"><g id="c18a"><rect x="-36" y="877" width="72" height="48"/><text y="907.5">18</text></g><g id="c18b"><circle cy="1010" r="37"/><text y="1016.5">197</text></g><g id="c18c"><rect x="-36" y="1095" width="72" height="48"/><text y="1125.5">18</text></g><g id="c18d"><circle cy="1228" r="37"/><text y="1234.5">196</text></g><g id="c18e"><rect x="-37.5" y="1313" width="75" height="48"/><text y="1343.5">(18, 0)</text></g><g id="c18f"><rect x="-36" y="1410" width="72" height="48"/><text y="1440.5">18</text></g><g id="c18g"><circle cx="40" cy="1543" r="37"/><text x="40" y="1549.5">194</text></g></g>
<g id="c19" stroke="#ed7a53" transform="translate(1919.5,0)"><g id="c19a"><rect x="-36" y="877" width="72" height="48"/><text y="907.5">19</text></g><g id="c19b"><circle cy="1010" r="37"/><text y="1016.5">193</text></g><g id="c19c"><rect x="-36" y="1095" width="72" height="48"/><text y="1125.5">19</text></g><g id="c19d"><circle cy="1228" r="37"/><text y="1234.5">192</text></g><g id="c19e"><rect x="-37.5" y="1313" width="75" height="48"/><text y="1343.5">(19, 0)</text></g><g id="c19f"><rect x="-36" y="1410" width="72" height="48"/><text y="1440.5">19</text></g><g id="c19g"><circle cx="41.5" cy="1543" r="37"/><text x="41.5" y="1549.5">190</text></g></g>
<g id="c20" stroke="#ea7457" transform="translate(2027.6,0)"><g id="c20a"><rect x="-36" y="877" width="72" height="48"/><text y="907.5">20</text></g><g id="c20b"><circle cy="1010" r="37"/><text y="1016.5">188</text></g><g id="c20c"><rect x="-36" y="1095" width="72" height="48"/><text y="1125.5">20</text></g><g id="c20d"><circle cy="1228" r="37"/><text y="1234.5">187</text></g><g id="c20e"><rect x="-37.5" y="1313" width="75" height="48"/><text y="1343.5">(20, 0)</text></g><g id="c20f"><rect x="-36" y="1410" width="72" height="48"/><text y="1440.5">20</text></g><g id="c20g"><circle cx="32.2" cy="1543" r="37"/><text x="32.2" y="1549.5">185</text></g></g>
<g id="c21" stroke="#e8705a" transform="translate(2125,0)"><g id="c21a"><rect x="-36" y="877" width="72" height="48"/><text y="907.5">21</text></g><g id="c21b"><circle cy="1010" r="37"/><text y="1016.5">184</text></g><g id="c21c"><rect x="-36" y="1095" width="72" height="48"/><text y="1125.5">21</text></g><g id="c21d"><circle cy="1228" r="37"/><text y="1234.5">183</text></g><g id="c21e"><rect x="-37.5" y="1313" width="75" height="48"/><text y="1343.5">(21, 0)</text></g><g id="c21f"><rect x="-36" y="1410" width="72" height="48"/><text y="1440.5">21</text></g><g id="c21g"><circle cx="33" cy="1543" r="37"/><text x="33" y="1549.5">181</text></g></g>
<g id="c22" stroke="#e56b5d" transform="translate(2222.8,0)"><g id="c22a"><rect x="-36" y="877" width="72" height="48"/><text y="907.5">22</text></g><g id="c22b"><circle cy="1010" r="37"/><text y="1016.5">180</text></g><g id="c22c"><rect x="-36" y="1095" width="72" height="48"/><text y="1125.5">22</text></g><g id="c22d"><circle cy="1228" r="37"/><text y="1234.5">179</text></g><g id="c22e"><rect x="-37.5" y="1313" width="75" height="48"/><text y="1343.5">(22, 0)</text></g><g id="c22f"><rect x="-36" y="1410" width="72" height="48"/><text y="1440.5">22</text></g><g id="c22g"><circle cx="34" cy="1543" r="37"/><text x="34" y="1549.5">177</text></g></g>
<g id="c23" stroke="#e36760" transform="translate(2319.6,0)"><g id="c23a"><rect x="-36" y="877" width="72" height="48"/><text y="907.5">23</text></g><g id="c23b"><circle cy="1010" r="37"/><text y="1016.5">176</text></g><g id="c23c"><rect x="-36" y="1095" width="72" height="48"/><text y="1125.5">23</text></g><g id="c23d"><circle cy="1228" r="37"/><text y="1234.5">175</text></g><g id="c23e"><rect x="-37.5" y="1313" width="75" height="48"/><text y="1343.5">(23, 0)</text></g><g id="c23f"><rect x="-36" y="1410" width="72" height="48"/><text y="1440.5">23</text></g><g id="c23g"><circle cx="35.8" cy="1543" r="37"/><text x="35.8" y="1549.5">173</text></g></g>
<g id="c24" stroke="#df6264" transform="translate(2423.4,0)"><g id="c24a"><rect x="-36" y="877" width="72" height="48"/><text y="907.5">24</text></g><g id="c24b"><circle cy="1010" r="37"/><text y="1016.5">171</text></g><g id="c24c"><rect x="-36" y="1095" width="72" height="48"/><text y="1125.5">24</text></g><g id="c24d"><circle cy="1228" r="37"/><text y="1234.5">170</text></g><g id="c24e"><rect x="-37.5" y="1313" width="75" height="48"/><text y="1343.5">(24, 0)</text></g><g id="c24f"><rect x="-36" y="1410" width="72" height="48"/><text y="1440.5">24</text></g><g id="c24g"><circle cx="30.9" cy="1543" r="37"/><text x="30.9" y="1549.5">168</text></g></g>
<g id="c25" stroke="#dc5d67" transform="translate(2522.3,0)"><g id="c25a"><rect x="-36" y="877" width="72" height="48"/><text y="907.5">25</text></g><g id="c25b"><circle cy="1010" r="37"/><text y="1016.5">167</text></g><g id="c25c"><rect x="-36" y="1095" width="72" height="48"/><text y="1125.5">25</text></g><g id="c25d"><circle cy="1228" r="37"/><text y="1234.5">166</text></g><g id="c25e"><rect x="-37.5" y="1313" width="75" height="48"/><text y="1343.5">(25, 0)</text></g><g id="c25f"><rect x="-36" y="1410" width="72" height="48"/><text y="1440.5">25</text></g><g id="c25g"><circle cx="30.9" cy="1543" r="37"/><text x="30.9" y="1549.5">164</text></g></g>
<g id="c26" stroke="#d9596a" transform="translate(2619.5,0)"><g id="c26a"><rect x="-36" y="877" width="72" height="48"/><text y="907.5">26</text></g><g id="c26b"><circle cy="1010" r="37"/><text y="1016.5">163</text></g><g id="c26c"><rect x="-36" y="1095" width="72" height="48"/><text y="1125.5">26</text></g><g id="c26d"><circle cy="1228" r="37"/><text y="1234.5">162</text></g><g id="c26e"><rect x="-37.5" y="1313" width="75" height="48"/><text y="1343.5">(26, 0)</text></g><g id="c26f"><rect x="-36" y="1410" width="72" height="48"/><text y="1440.5">26</text></g><g id="c26g"><circle cx="31.9" cy="1543" r="37"/><text x="31.9" y="1549.5">160</text></g></g>
<g id="c27" stroke="#d6556d" transform="translate(2718.4,0)"><g id="c27a"><rect x="-36" y="877" width="72" height="48"/><text y="907.5">27</text></g><g id="c27b"><circle cy="1010" r="37"/><text y="1016.5">159</text></g><g id="c27c"><rect x="-36" y="1095" width="72" height="48"/><text y="1125.5">27</text></g><g id="c27d"><circle cy="1228" r="37"/><text y="1234.5">158</text></g><g id="c27e"><rect x="-37.5" y="1313" width="75" height="48"/><text y="1343.5">(27, 0)</text></g><g id="c27f"><rect x="-36" y="1410" width="72" height="48"/><text y="1440.5">27</text></g><g id="c27g"><circle cx="32.3" cy="1543" r="37"/><text x="32.3" y="1549.5">156</text></g></g>
<g id="c28" stroke="#d35071" transform="translate(2823.3,0)"><g id="c28a"><rect x="-36" y="877" width="72" height="48"/><text y="907.5">28</text></g><g id="c28b"><circle cy="1010" r="37"/><text y="1016.5">154</text></g><g id="c28c"><rect x="-36" y="1095" width="72" height="48"/><text y="1125.5">28</text></g><g id="c28d"><circle cy="1228" r="37"/><text y="1234.5">153</text></g><g id="c28e"><rect x="-37.5" y="1313" width="75" height="48"/><text y="1343.5">(28, 0)</text></g><g id="c28f"><rect x="-36" y="1410" width="72" height="48"/><text y="1440.5">28</text></g><g id="c28g"><circle cx="25.6" cy="1543" r="37"/><text x="25.6" y="1549.5">151</text></g></g>
<g id="c29" stroke="#d04c74" transform="translate(2921.5,0)"><g id="c29a"><rect x="-36" y="877" width="72" height="48"/><text y="907.5">29</text></g><g id="c29b"><circle cy="1010" r="37"/><text y="1016.5">150</text></g><g id="c29c"><rect x="-36" y="1095" width="72" height="48"/><text y="1125.5">29</text></g><g id="c29d"><circle cy="1228" r="37"/><text y="1234.5">149</text></g><g id="c29e"><rect x="-37.5" y="1313" width="75" height="48"/><text y="1343.5">(29, 0)</text></g><g id="c29f"><rect x="-36" y="1410" width="72" height="48"/><text y="1440.5">29</text></g><g id="c29g"><circle cx="26.3" cy="1543" r="37"/><text x="26.3" y="1549.5">147</text></g></g>
<g id="c30" stroke="#cd4877" transform="translate(3019.7,0)"><g id="c30a"><rect x="-36" y="877" width="72" height="48"/><text y="907.5">30</text></g><g id="c30b"><circle cy="1010" r="37"/><text y="1016.5">146</text></g><g id="c30c"><rect x="-36" y="1095" width="72" height="48"/><text y="1125.5">30</text></g><g id="c30d"><circle cy="1228" r="37"/><text y="1234.5">145</text></g><g id="c30e"><rect x="-37.5" y="1313" width="75" height="48"/><text y="1343.5">(30, 0)</text></g><g id="c30f"><rect x="-36" y="1410" width="72" height="48"/><text y="1440.5">30</text></g><g id="c30g"><circle cx="26.7" cy="1543" r="37"/><text x="26.7" y="1549.5">143</text></g></g>
<g id="c31" stroke="#ca447a" transform="translate(3119.7,0)"><g id="c31a"><rect x="-36" y="877" width="72" height="48"/><text y="907.5">31</text></g><g id="c31b"><circle cy="1010" r="37"/><text y="1016.5">142</text></g><g id="c31c"><rect x="-36" y="1095" width="72" height="48"/><text y="1125.5">31</text></g><g id="c31d"><circle cy="1228" r="37"/><text y="1234.5">141</text></g><g id="c31e"><rect x="-37.5" y="1313" width="75" height="48"/><text y="1343.5">(31, 0)</text></g><g id="c31f"><rect x="-36" y="1410" width="72" height="48"/><text y="1440.5">31</text></g><g id="c31g"><circle cx="25.3" cy="1543" r="37"/><text x="25.3" y="1549.5">139</text></g></g>
<g id="c32" stroke="#a11b9b" transform="translate(3227.4,0)"><g id="c32a"><rect x="-36" y="877" width="72" height="48"/><text y="907.5">32</text></g><g id="c32b"><circle cy="1010" r="37"/><text y="1016.5">102</text></g><g id="c32c"><rect x="-36" y="1095" width="72" height="48"/><text y="1125.5">32</text></g><g id="c32d"><circle cy="1228" r="37"/><text y="1234.5">101</text></g><g id="c32e"><rect x="-37.5" y="1313" width="75" height="48"/><text y="1343.5">(32, 0)</text></g><g id="c32f"><rect x="-36" y="1410" width="72" height="48"/><text y="1440.5">32</text></g><g id="c32g"><circle cx="8.4" cy="1543" r="29.6"/><text x="8.4" y="1549.5">99</text></g></g>
<g id="c33" stroke="#9c179e" transform="translate(3325,0)"><g id="c33a"><rect x="-36" y="877" width="72" height="48"/><text y="907.5">33</text></g><g id="c33b"><circle cy="1010" r="29.6"/><text y="1016.5">98</text></g><g id="c33c"><rect x="-36" y="1095" width="72" height="48"/><text y="1125.5">33</text></g><g id="c33d"><circle cy="1228" r="29.6"/><text y="1234.5">97</text></g><g id="c33e"><rect x="-37.5" y="1313" width="75" height="48"/><text y="1343.5">(33, 0)</text></g><g id="c33f"><rect x="-36" y="1410" width="72" height="48"/><text y="1440.5">33</text></g><g id="c33g"><circle cx="-7" cy="1543" r="29.6"/><text x="-7" y="1549.5">95</text></g></g>
<g id="c34" stroke="#9814a0" transform="translate(3421.9,0)"><g id="c34a"><rect x="-36" y="877" width="72" height="48"/><text y="907.5">34</text></g><g id="c34b"><circle cy="1010" r="29.6"/><text y="1016.5">94</text></g><g id="c34c"><rect x="-36" y="1095" width="72" height="48"/><text y="1125.5">34</text></g><g id="c34d"><circle cy="1228" r="29.6"/><text y="1234.5">93</text></g><g id="c34e"><rect x="-37.5" y="1313" width="75" height="48"/><text y="1343.5">(34, 0)</text></g><g id="c34f"><rect x="-36" y="1410" width="72" height="48"/><text y="1440.5">34</text></g><g id="c34g"><circle cx="-11.9" cy="1543" r="29.6"/><text x="-11.9" y="1549.5">91</text></g></g>
<g id="c35" stroke="#9310a2" transform="translate(3518.3,0)"><g id="c35a"><rect x="-36" y="877" width="72" height="48"/><text y="907.5">35</text></g><g id="c35b"><circle cy="1010" r="29.6"/><text y="1016.5">90</text></g><g id="c35c"><rect x="-36" y="1095" width="72" height="48"/><text y="1125.5">35</text></g><g id="c35d"><circle cy="1228" r="29.6"/><text y="1234.5">89</text></g><g id="c35e"><rect x="-37.5" y="1313" width="75" height="48"/><text y="1343.5">(35, 0)</text></g><g id="c35f"><rect x="-36" y="1410" width="72" height="48"/><text y="1440.5">35</text></g><g id="c35g"><circle cx="-12.3" cy="1543" r="29.6"/><text x="-12.3" y="1549.5">87</text></g></g>
<g id="c36" stroke="#8d0ca5" transform="translate(3626.4,0)"><g id="c36a"><rect x="-36" y="877" width="72" height="48"/><text y="907.5">36</text></g><g id="c36b"><circle cy="1010" r="29.6"/><text y="1016.5">85</text></g><g id="c36c"><rect x="-36" y="1095" width="72" height="48"/><text y="1125.5">36</text></g><g id="c36d"><circle cy="1228" r="29.6"/><text y="1234.5">84</text></g><g id="c36e"><rect x="-37.5" y="1313" width="75" height="48"/><text y="1343.5">(36, 0)</text></g><g id="c36f"><rect x="-36" y="1410" width="72" height="48"/><text y="1440.5">36</text></g><g id="c36g"><circle cx="-21.4" cy="1543" r="29.6"/><text x="-21.4" y="1549.5">82</text></g></g>
<g id="c37" stroke="#8809a6" transform="translate(3726.3,0)"><g id="c37a"><rect x="-36" y="877" width="72" height="48"/><text y="907.5">37</text></g><g id="c37b"><circle cy="1010" r="29.6"/><text y="1016.5">81</text></g><g id="c37c"><rect x="-36" y="1095" width="72" height="48"/><text y="1125.5">37</text></g><g id="c37d"><circle cy="1228" r="29.6"/><text y="1234.5">80</text></g><g id="c37e"><rect x="-37.5" y="1313" width="75" height="48"/><text y="1343.5">(37, 0)</text></g><g id="c37f"><rect x="-36" y="1410" width="72" height="48"/><text y="1440.5">37</text></g><g id="c37g"><circle cx="-23.3" cy="1543" r="29.6"/><text x="-23.3" y="1549.5">78</text></g></g>
<g id="c38" stroke="#8306a7" transform="translate(3822.4,0)"><g id="c38a"><rect x="-36" y="877" width="72" height="48"/><text y="907.5">38</text></g><g id="c38b"><circle cy="1010" r="29.6"/><text y="1016.5">77</text></g><g id="c38c"><rect x="-36" y="1095" width="72" height="48"/><text y="1125.5">38</text></g><g id="c38d"><circle cy="1228" r="29.6"/><text y="1234.5">76</text></g><g id="c38e"><rect x="-37.5" y="1313" width="75" height="48"/><text y="1343.5">(38, 0)</text></g><g id="c38f"><rect x="-36" y="1410" width="72" height="48"/><text y="1440.5">38</text></g><g id="c38g"><circle cx="-28.7" cy="1543" r="29.6"/><text x="-28.7" y="1549.5">74</text></g></g>
<g id="c39" stroke="#7f04a8" transform="translate(3919.6,0)"><g id="c39a"><rect x="-36" y="877" width="72" height="48"/><text y="907.5">39</text></g><g id="c39b"><circle cy="1010" r="29.6"/><text y="1016.5">73</text></g><g id="c39c"><rect x="-36" y="1095" width="72" height="48"/><text y="1125.5">39</text></g><g id="c39d"><circle cy="1228" r="29.6"/><text y="1234.5">72</text></g><g id="c39e"><rect x="-37.5" y="1313" width="75" height="48"/><text y="1343.5">(39, 0)</text></g><g id="c39f"><rect x="-36" y="1410" width="72" height="48"/><text y="1440.5">39</text></g><g id="c39g"><circle cx="-42" cy="1543" r="29.6"/><text x="-42" y="1549.5">70</text></g></g>
<g id="c40" stroke="#c43f7f" transform="translate(4024.5,0)"><g id="c40a"><rect x="-36" y="877" width="72" height="48"/><text y="907.5">40</text></g><g id="c40b"><circle cy="1010" r="37"/><text y="1016.5">136</text></g><g id="c40c"><rect x="-36" y="1095" width="72" height="48"/><text y="1125.5">40</text></g><g id="c40d"><circle cy="1228" r="37"/><text y="1234.5">135</text></g><g id="c40e"><rect x="-37.5" y="1313" width="75" height="48"/><text y="1343.5">(40, 0)</text></g><g id="c40f"><rect x="-36" y="1410" width="72" height="48"/><text y="1440.5">40</text></g><g id="c40g"><circle cx="-54.5" cy="1543" r="37"/><text x="-54.5" y="1549.5">133</text></g></g>
<g id="c41" stroke="#c13b82" transform="translate(4122,0)"><g id="c41a"><rect x="-36" y="877" width="72" height="48"/><text y="907.5">41</text></g><g id="c41b"><circle cy="1010" r="37"/><text y="1016.5">132</text></g><g id="c41c"><rect x="-36" y="1095" width="72" height="48"/><text y="1125.5">41</text></g><g id="c41d"><circle cy="1228" r="37"/><text y="1234.5">131</text></g><g id="c41e"><rect x="-37.5" y="1313" width="75" height="48"/><text y="1343.5">(41, 0)</text></g><g id="c41f"><rect x="-36" y="1410" width="72" height="48"/><text y="1440.5">41</text></g><g id="c41g"><circle cx="-52" cy="1543" r="37"/><text x="-52" y="1549.5">129</text></g></g>
<g id="c42" stroke="#bd3786" transform="translate(4219.5,0)"><g id="c42a"><rect x="-36" y="877" width="72" height="48"/><text y="907.5">42</text></g><g id="c42b"><circle cy="1010" r="37"/><text y="1016.5">128</text></g><g id="c42c"><rect x="-36" y="1095" width="72" height="48"/><text y="1125.5">42</text></g><g id="c42d"><circle cy="1228" r="37"/><text y="1234.5">127</text></g><g id="c42e"><rect x="-37.5" y="1313" width="75" height="48"/><text y="1343.5">(42, 0)</text></g><g id="c42f"><rect x="-36" y="1410" width="72" height="48"/><text y="1440.5">42</text></g><g id="c42g"><circle cx="-50.5" cy="1543" r="37"/><text x="-50.5" y="1549.5">125</text></g></g>
<g id="c43" stroke="#b93389" transform="translate(4317,0)"><g id="c43a"><rect x="-36" y="877" width="72" height="48"/><text y="907.5">43</text></g><g id="c43b"><circle cy="1010" r="37"/><text y="1016.5">124</text></g><g id="c43c"><rect x="-36" y="1095" width="72" height="48"/><text y="1125.5">43</text></g><g id="c43d"><circle cy="1228" r="37"/><text y="1234.5">123</text></g><g id="c43e"><rect x="-37.5" y="1313" width="75" height="48"/><text y="1343.5">(43, 0)</text></g><g id="c43f"><rect x="-36" y="1410" width="72" height="48"/><text y="1440.5">43</text></g><g id="c43g"><circle cx="-49.1" cy="1543" r="37"/><text x="-49.1" y="1549.5">121</text></g></g>
<g id="c44" stroke="#b42e8d" transform="translate(4425.2,0)"><g id="c44a"><rect x="-36" y="877" width="72" height="48"/><text y="907.5">44</text></g><g id="c44b"><circle cy="1010" r="37"/><text y="1016.5">119</text></g><g id="c44c"><rect x="-36" y="1095" width="72" height="48"/><text y="1125.5">44</text></g><g id="c44d"><circle cy="1228" r="37"/><text y="1234.5">118</text></g><g id="c44e"><rect x="-37.5" y="1313" width="75" height="48"/><text y="1343.5">(44, 0)</text></g><g id="c44f"><rect x="-36" y="1410" width="72" height="48"/><text y="1440.5">44</text></g><g id="c44g"><circle cx="-59.2" cy="1543" r="37"/><text x="-59.2" y="1549.5">116</text></g></g>
<g id="c45" stroke="#b02990" transform="translate(4522.7,0)"><g id="c45a"><rect x="-36" y="877" width="72" height="48"/><text y="907.5">45</text></g><g id="c45b"><circle cy="1010" r="37"/><text y="1016.5">115</text></g><g id="c45c"><rect x="-36" y="1095" width="72" height="48"/><text y="1125.5">45</text></g><g id="c45d"><circle cy="1228" r="37"/><text y="1234.5">114</text></g><g id="c45e"><rect x="-37.5" y="1313" width="75" height="48"/><text y="1343.5">(45, 0)</text></g><g id="c45f"><rect x="-36" y="1410" width="72" height="48"/><text y="1440.5">45</text></g><g id="c45g"><circle cx="-57.8" cy="1543" r="37"/><text x="-57.8" y="1549.5">112</text></g></g>
<g id="c46" stroke="#ac2594" transform="translate(4619.6,0)"><g id="c46a"><rect x="-36" y="877" width="72" height="48"/><text y="907.5">46</text></g><g id="c46b"><circle cy="1010" r="37"/><text y="1016.5">111</text></g><g id="c46c"><rect x="-36" y="1095" width="72" height="48"/><text y="1125.5">46</text></g><g id="c46d"><circle cy="1228" r="37"/><text y="1234.5">110</text></g><g id="c46e"><rect x="-37.5" y="1313" width="75" height="48"/><text y="1343.5">(46, 0)</text></g><g id="c46f"><rect x="-36" y="1410" width="72" height="48"/><text y="1440.5">46</text></g><g id="c46g"><circle cx="-55.8" cy="1543" r="37"/><text x="-55.8" y="1549.5">108</text></g></g>
<g id="c47" stroke="#a72097" transform="translate(4718.5,0)"><g id="c47a"><rect x="-36" y="877" width="72" height="48"/><text y="907.5">47</text></g><g id="c47b"><circle cy="1010" r="37"/><text y="1016.5">107</text></g><g id="c47c"><rect x="-36" y="1095" width="72" height="48"/><text y="1125.5">47</text></g><g id="c47d"><circle cy="1228" r="37"/><text y="1234.5">106</text></g><g id="c47e"><rect x="-37.5" y="1313" width="75" height="48"/><text y="1343.5">(47, 0)</text></g><g id="c47f"><rect x="-36" y="1410" width="72" height="48"/><text y="1440.5">47</text></g><g id="c47g"><circle cx="-55.8" cy="1543" r="37"/><text x="-55.8" y="1549.5">104</text></g></g>
<g id="c48" stroke="#7702a8" transform="translate(4826.5,0)"><g id="c48a"><rect x="-36" y="877" width="72" height="48"/><text y="907.5">48</text></g><g id="c48b"><circle cy="1010" r="29.6"/><text y="1016.5">67</text></g><g id="c48c"><rect x="-36" y="1095" width="72" height="48"/><text y="1125.5">48</text></g><g id="c48d"><circle cy="1228" r="29.6"/><text y="1234.5">66</text></g><g id="c48e"><rect x="-37.5" y="1313" width="75" height="48"/><text y="1343.5">(48, 0)</text></g><g id="c48f"><rect x="-36" y="1410" width="72" height="48"/><text y="1440.5">48</text></g><g id="c48g"><circle cx="-70.9" cy="1543" r="29.6"/><text x="-70.9" y="1549.5">64</text></g></g>
<g id="c49" stroke="#7101a8" transform="translate(4924.4,0)"><g id="c49a"><rect x="-36" y="877" width="72" height="48"/><text y="907.5">49</text></g><g id="c49b"><circle cy="1010" r="29.6"/><text y="1016.5">63</text></g><g id="c49c"><rect x="-36" y="1095" width="72" height="48"/><text y="1125.5">49</text></g><g id="c49d"><circle cy="1228" r="29.6"/><text y="1234.5">62</text></g><g id="c49e"><rect x="-37.5" y="1313" width="75" height="48"/><text y="1343.5">(49, 0)</text></g><g id="c49f"><rect x="-36" y="1410" width="72" height="48"/><text y="1440.5">49</text></g><g id="c49g"><circle cx="-78.4" cy="1543" r="29.6"/><text x="-78.4" y="1549.5">60</text></g></g>
<g id="c50" stroke="#6c00a8" transform="translate(5022.2,0)"><g id="c50a"><rect x="-36" y="877" width="72" height="48"/><text y="907.5">50</text></g><g id="c50b"><circle cy="1010" r="29.6"/><text y="1016.5">59</text></g><g id="c50c"><rect x="-36" y="1095" width="72" height="48"/><text y="1125.5">50</text></g><g id="c50d"><circle cy="1228" r="29.6"/><text y="1234.5">58</text></g><g id="c50e"><rect x="-37.5" y="1313" width="75" height="48"/><text y="1343.5">(50, 0)</text></g><g id="c50f"><rect x="-36" y="1410" width="72" height="48"/><text y="1440.5">50</text></g><g id="c50g"><circle cx="-82.2" cy="1543" r="29.6"/><text x="-82.2" y="1549.5">56</text></g></g>
<g id="c51" stroke="#6600a7" transform="translate(5119.7,0)"><g id="c51a"><rect x="-36" y="877" width="72" height="48"/><text y="907.5">51</text></g><g id="c51b"><circle cy="1010" r="29.6"/><text y="1016.5">55</text></g><g id="c51c"><rect x="-36" y="1095" width="72" height="48"/><text y="1125.5">51</text></g><g id="c51d"><circle cy="1228" r="29.6"/><text y="1234.5">54</text></g><g id="c51e"><rect x="-37.5" y="1313" width="75" height="48"/><text y="1343.5">(51, 0)</text></g><g id="c51f"><rect x="-36" y="1410" width="72" height="48"/><text y="1440.5">51</text></g><g id="c51g"><circle cx="-85.5" cy="1543" r="29.6"/><text x="-85.5" y="1549.5">52</text></g></g>
<g id="c52" stroke="#5f01a6" transform="translate(5227.8,0)"><g id="c52a"><rect x="-36" y="877" width="72" height="48"/><text y="907.5">52</text></g><g id="c52b"><circle cy="1010" r="29.6"/><text y="1016.5">50</text></g><g id="c52c"><rect x="-36" y="1095" width="72" height="48"/><text y="1125.5">52</text></g><g id="c52d"><circle cy="1228" r="29.6"/><text y="1234.5">49</text></g><g id="c52e"><rect x="-37.5" y="1313" width="75" height="48"/><text y="1343.5">(52, 0)</text></g><g id="c52f"><rect x="-36" y="1410" width="72" height="48"/><text y="1440.5">52</text></g><g id="c52g"><circle cx="-97.8" cy="1543" r="29.6"/><text x="-97.8" y="1549.5">47</text></g></g>
<g id="c53" stroke="#5a01a5" transform="translate(5324.6,0)"><g id="c53a"><rect x="-36" y="877" width="72" height="48"/><text y="907.5">53</text></g><g id="c53b"><circle cy="1010" r="29.6"/><text y="1016.5">46</text></g><g id="c53c"><rect x="-36" y="1095" width="72" height="48"/><text y="1125.5">53</text></g><g id="c53d"><circle cy="1228" r="29.6"/><text y="1234.5">45</text></g><g id="c53e"><rect x="-37.5" y="1313" width="75" height="48"/><text y="1343.5">(53, 0)</text></g><g id="c53f"><rect x="-36" y="1410" width="72" height="48"/><text y="1440.5">53</text></g><g id="c53g"><circle cx="-98.9" cy="1543" r="29.6"/><text x="-98.9" y="1549.5">43</text></g></g>
<g id="c54" stroke="#5401a3" transform="translate(5422,0)"><g id="c54a"><rect x="-36" y="877" width="72" height="48"/><text y="907.5">54</text></g><g id="c54b"><circle cy="1010" r="29.6"/><text y="1016.5">42</text></g><g id="c54c"><rect x="-36" y="1095" width="72" height="48"/><text y="1125.5">54</text></g><g id="c54d"><circle cy="1228" r="29.6"/><text y="1234.5">41</text></g><g id="c54e"><rect x="-37.5" y="1313" width="75" height="48"/><text y="1343.5">(54, 0)</text></g><g id="c54f"><rect x="-36" y="1410" width="72" height="48"/><text y="1440.5">54</text></g><g id="c54g"><circle cx="-100.2" cy="1543" r="29.6"/><text x="-100.2" y="1549.5">39</text></g></g>
<g id="c55" stroke="#4e02a1" transform="translate(5519.7,0)"><g id="c55a"><rect x="-36" y="877" width="72" height="48"/><text y="907.5">55</text></g><g id="c55b"><circle cy="1010" r="29.6"/><text y="1016.5">38</text></g><g id="c55c"><rect x="-36" y="1095" width="72" height="48"/><text y="1125.5">55</text></g><g id="c55d"><circle cy="1228" r="29.6"/><text y="1234.5">37</text></g><g id="c55e"><rect x="-37.5" y="1313" width="75" height="48"/><text y="1343.5">(55, 0)</text></g><g id="c55f"><rect x="-36" y="1410" width="72" height="48"/><text y="1440.5">55</text></g><g id="c55g"><circle cx="-101.7" cy="1543" r="29.6"/><text x="-101.7" y="1549.5">35</text></g></g>
<g id="c56" stroke="#47039f" transform="translate(5626.3,0)"><g id="c56a"><rect x="-36" y="877" width="72" height="48"/><text y="907.5">56</text></g><g id="c56b"><circle cy="1010" r="29.6"/><text y="1016.5">33</text></g><g id="c56c"><rect x="-36" y="1095" width="72" height="48"/><text y="1125.5">56</text></g><g id="c56d"><circle cy="1228" r="29.6"/><text y="1234.5">32</text></g><g id="c56e"><rect x="-37.5" y="1313" width="75" height="48"/><text y="1343.5">(56, 0)</text></g><g id="c56f"><rect x="-36" y="1410" width="72" height="48"/><text y="1440.5">56</text></g><g id="c56g"><circle cx="-112.3" cy="1543" r="29.6"/><text x="-112.3" y="1549.5">30</text></g></g>
<g id="c57" stroke="#41049d" transform="translate(5722.4,0)"><g id="c57a"><rect x="-36" y="877" width="72" height="48"/><text y="907.5">57</text></g><g id="c57b"><circle cy="1010" r="29.6"/><text y="1016.5">29</text></g><g id="c57c"><rect x="-36" y="1095" width="72" height="48"/><text y="1125.5">57</text></g><g id="c57d"><circle cy="1228" r="29.6"/><text y="1234.5">28</text></g><g id="c57e"><rect x="-37.5" y="1313" width="75" height="48"/><text y="1343.5">(57, 0)</text></g><g id="c57f"><rect x="-36" y="1410" width="72" height="48"/><text y="1440.5">57</text></g><g id="c57g"><circle cx="-111.9" cy="1543" r="29.6"/><text x="-111.9" y="1549.5">26</text></g></g>
<g id="c58" stroke="#3b049a" transform="translate(5819.9,0)"><g id="c58a"><rect x="-36" y="877" width="72" height="48"/><text y="907.5">58</text></g><g id="c58b"><circle cy="1010" r="29.6"/><text y="1016.5">25</text></g><g id="c58c"><rect x="-36" y="1095" width="72" height="48"/><text y="1125.5">58</text></g><g id="c58d"><circle cy="1228" r="29.6"/><text y="1234.5">24</text></g><g id="c58e"><rect x="-37.5" y="1313" width="75" height="48"/><text y="1343.5">(58, 0)</text></g><g id="c58f"><rect x="-36" y="1410" width="72" height="48"/><text y="1440.5">58</text></g><g id="c58g"><circle cx="-113.3" cy="1543" r="29.6"/><text x="-113.3" y="1549.5">22</text></g></g>
<g id="c59" stroke="#340598" transform="translate(5917.4,0)"><g id="c59a"><rect x="-36" y="877" width="72" height="48"/><text y="907.5">59</text></g><g id="c59b"><circle cy="1010" r="29.6"/><text y="1016.5">21</text></g><g id="c59c"><rect x="-36" y="1095" width="72" height="48"/><text y="1125.5">59</text></g><g id="c59d"><circle cy="1228" r="29.6"/><text y="1234.5">20</text></g><g id="c59e"><rect x="-37.5" y="1313" width="75" height="48"/><text y="1343.5">(59, 0)</text></g><g id="c59f"><rect x="-36" y="1410" width="72" height="48"/><text y="1440.5">59</text></g><g id="c59g"><circle cx="-115" cy="1543" r="29.6"/><text x="-115" y="1549.5">18</text></g></g>
<g id="c60" stroke="#250691" transform="translate(6025.4,0)"><g id="c60a"><rect x="-36" y="877" width="72" height="48"/><text y="907.5">60</text></g><g id="c60b"><circle cy="1010" r="29.6"/><text y="1016.5">12</text></g><g id="c60c"><rect x="-36" y="1095" width="72" height="48"/><text y="1125.5">60</text></g><g id="c60d"><circle cy="1228" r="29.6"/><text y="1234.5">11</text></g><g id="c60e"><rect x="-37.5" y="1313" width="75" height="48"/><text y="1343.5">(60, 0)</text></g><g id="c60f"><rect x="-36" y="1410" width="72" height="48"/><text y="1440.5">60</text></g><g id="c60g"><circle cx="-130.1" cy="1543" r="23.3"/><text x="-130.1" y="1549.5">9</text></g></g>
<g id="c61" stroke="#1d068e" transform="translate(6122.6,0)"><g id="c61a"><rect x="-36" y="877" width="72" height="48"/><text y="907.5">61</text></g><g id="c61b"><circle cy="1010" r="23.3"/><text y="1016.5">8</text></g><g id="c61c"><rect x="-36" y="1095" width="72" height="48"/><text y="1125.5">61</text></g><g id="c61d"><circle cy="1228" r="23.3"/><text y="1234.5">7</text></g><g id="c61e"><rect x="-37.5" y="1313" width="75" height="48"/><text y="1343.5">(61, 0)</text></g><g id="c61f"><rect x="-36" y="1410" width="72" height="48"/><text y="1440.5">61</text></g><g id="c61g"><circle cx="-136.1" cy="1543" r="23.3"/><text x="-136.1" y="1549.5">5</text></g></g>
<g id="c62" stroke="#2d0594" transform="translate(6219.8,0)"><g id="c62a"><rect x="-36" y="877" width="72" height="48"/><text y="907.5">62</text></g><g id="c62b"><circle cy="1010" r="29.6"/><text y="1016.5">16</text></g><g id="c62c"><rect x="-36" y="1095" width="72" height="48"/><text y="1125.5">62</text></g><g id="c62d"><circle cy="1228" r="29.6"/><text y="1234.5">15</text></g><g id="c62e"><rect x="-37.5" y="1313" width="75" height="48"/><text y="1343.5">(62, 0)</text></g><g id="c62f"><rect x="-36" y="1410" width="72" height="48"/><text y="1440.5">62</text></g><g id="c62g"><circle cx="-135.4" cy="1543" r="29.6"/><text x="-135.4" y="1549.5">13</text></g></g>
<g id="c63" stroke="#15078a" transform="translate(6317.3,0)"><g id="c63a"><rect x="-36" y="877" width="72" height="48"/><text y="907.5">63</text></g><g id="c63b"><circle cy="1010" r="23.3"/><text y="1016.5">4</text></g><g id="c63c"><rect x="-36" y="1095" width="72" height="48"/><text y="1125.5">63</text></g><g id="c63d"><circle cy="1228" r="23.3"/><text y="1234.5">3</text></g><g id="c63e"><rect x="-37.5" y="1313" width="75" height="48"/><text y="1343.5">(63, 0)</text></g><g id="c63f"><rect x="-36" y="1410" width="72" height="48"/><text y="1440.5">63</text></g><g id="c63g"><circle cx="-137.3" cy="1543" r="23.3"/><text x="-137.3" y="1549.5">1</text></g></g>
<g id="c64" stroke="#f2f322" transform="translate(6421.8,0)"><g id="c64a"><rect x="-36" y="877" width="72" height="48"/><text y="907.5">64</text></g><g id="c64b"><circle cy="1010" r="37"/><text y="1016.5">285</text></g><g id="c64c"><rect x="-36" y="1095" width="72" height="48"/><text y="1125.5">64</text></g><g id="c64d"><circle cy="1228" r="37"/><text y="1234.5">284</text></g><g id="c64e"><rect x="-37.5" y="1313" width="75" height="48"/><text y="1343.5">(64, 0)</text></g><g id="c64f"><rect x="-36" y="1410" width="72" height="48"/><text y="1440.5">64</text></g><g id="c64g"><circle cx="-143.5" cy="1543" r="37"/><text x="-143.5" y="1549.5">282</text></g></g>
<g id="c65" stroke="#f4ec23" transform="translate(6519.7,0)"><g id="c65a"><rect x="-36" y="877" width="72" height="48"/><text y="907.5">65</text></g><g id="c65b"><circle cy="1010" r="37"/><text y="1016.5">281</text></g><g id="c65c"><rect x="-36" y="1095" width="72" height="48"/><text y="1125.5">65</text></g><g id="c65d"><circle cy="1228" r="37"/><text y="1234.5">280</text></g><g id="c65e"><rect x="-37.5" y="1313" width="75" height="48"/><text y="1343.5">(65, 0)</text></g><g id="c65f"><rect x="-36" y="1410" width="72" height="48"/><text y="1440.5">65</text></g><g id="c65g"><circle cx="-136.1" cy="1543" r="37"/><text x="-136.1" y="1549.5">278</text></g></g>
</g>
</svg>
